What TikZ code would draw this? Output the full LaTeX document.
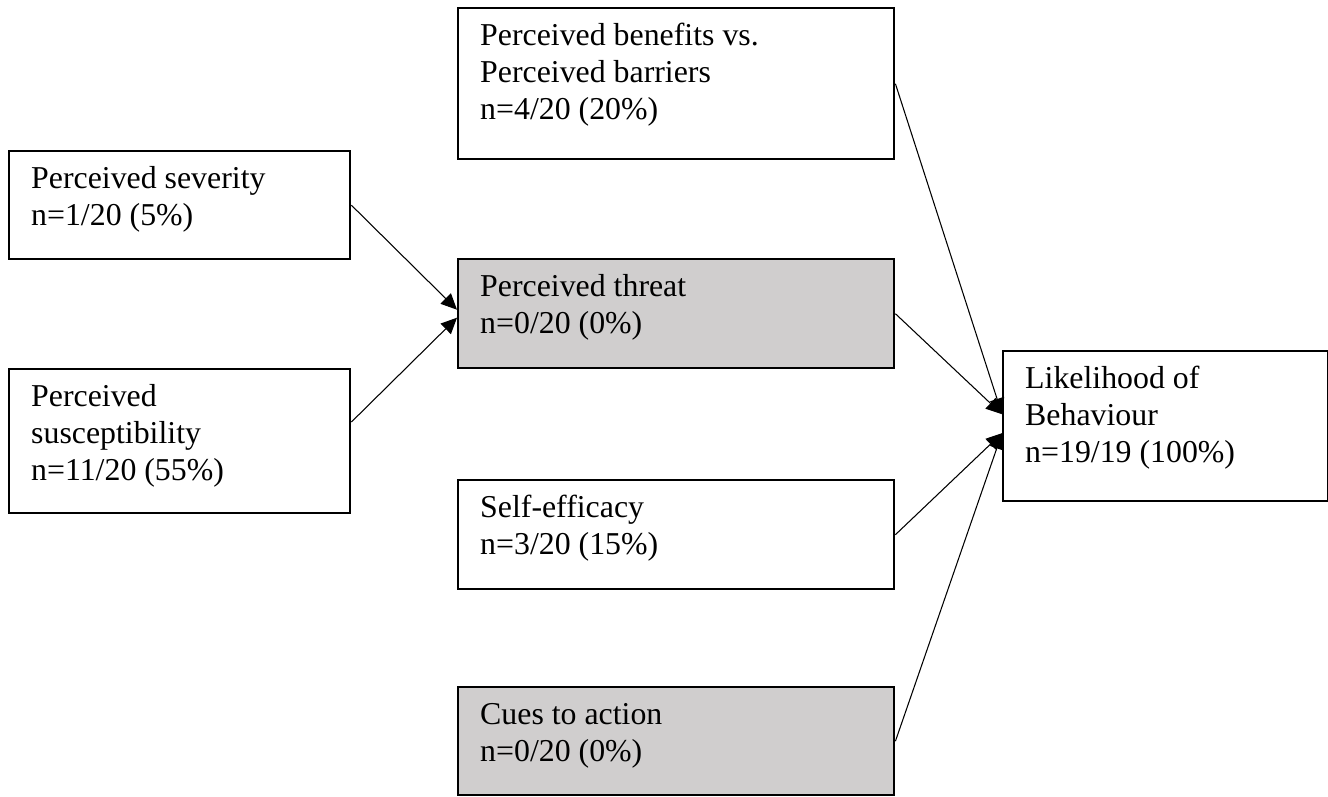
\documentclass[tikz,border=0pt]{standalone}
\usepackage{fontspec}
\setmainfont{Liberation Serif}
\usepackage{tikz}
\usetikzlibrary{arrows.meta,calc,positioning}
\definecolor{hbmgray}{RGB}{208,206,206}
\newlength{\px}
\setlength{\px}{0.01325cm}
\newcommand{\boxtext}[3]{\parbox[c][#2\px][t]{#1\px}{\raggedright\strut#3}}

\begin{document}
\begin{tikzpicture}[x=0.01325cm,y=-0.01325cm,font=\fontsize{12}{13.8}\selectfont,
    box/.style={draw,line width=0.9pt,anchor=north west,inner xsep=22\px,inner ysep=12\px},
    arr/.style={-{Triangle[length=6pt,width=5.5pt]},line width=0.4pt}]
    \useasboundingbox (0,0) rectangle (1328,796);
    % left column
    \node[box] (severity) at (8,150) {\boxtext{297}{84}{Perceived severity\\n=1/20 (5\%)}};
    \node[box] (suscept) at (8,368) {\boxtext{297}{120}{Perceived\\susceptibility\\n=11/20 (55\%)}};
    % middle column
    \node[box] (benefits) at (457,7) {\boxtext{392}{127}{Perceived benefits vs.\\Perceived barriers\\n=4/20 (20\%)}};
    \node[box,fill=hbmgray] (threat) at (457,258) {\boxtext{392}{85}{Perceived threat\\n=0/20 (0\%)}};
    \node[box] (selfeff) at (457,479) {\boxtext{392}{85}{Self-efficacy\\n=3/20 (15\%)}};
    \node[box,fill=hbmgray] (cues) at (457,686) {\boxtext{392}{84}{Cues to action\\n=0/20 (0\%)}};
    % outcome
    \node[box] (likely) at (1002,350) {\boxtext{281}{126}{Likelihood of\\Behaviour\\n=19/19 (100\%)}};
    \draw[arr] (severity.east)--([yshift=4\px]threat.west);
    \draw[arr] ([yshift=-54\px]suscept.north east)--([yshift=-4\px]threat.west);
    \draw[arr] (benefits.east)--([yshift=12\px]likely.west);
    \draw[arr] (threat.east)--([yshift=12\px]likely.west);
    \draw[arr] (selfeff.east)--([yshift=-7\px]likely.west);
    \draw[arr] (cues.east)--([yshift=-7\px]likely.west);
  \end{tikzpicture}
\end{document}
